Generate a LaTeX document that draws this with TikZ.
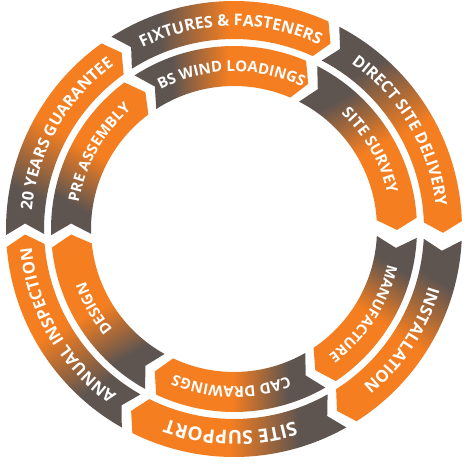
\documentclass[tikz,border=0pt]{standalone}
\usepackage{fontspec}
\setmainfont{Open Sans}
\definecolor{sgrey}{RGB}{95,85,80}
\definecolor{sorange}{RGB}{244,126,32}
\pgfdeclarehorizontalshading{segshade}{100bp}{color(0bp)=(sgrey); color(36bp)=(sgrey); color(52bp)=(sorange); color(100bp)=(sorange)}
% #1 tail gap angle, #2 head gap angle, #3 tail gap width, #4 head gap width,
% #5 inner radius, #6 outer radius
\newcommand\ringseg[6]{%
 \pgfmathsetmacro\sgS{#1-#2}%
 \pgfmathsetmacro\sgRot{(#1+#2)/2-90}%
 \pgfmathsetmacro\sgRm{(#5+#6)/2}%
 \pgfmathsetmacro\sgA{90+\sgS/2}%
 \pgfmathsetmacro\sgB{90-\sgS/2}%
 \pgfmathsetmacro\sgWt{#3/2/\sgRm*57.2958}%
 \pgfmathsetmacro\sgWh{#4/2/\sgRm*57.2958}%
 \pgfmathsetmacro\sgD{11/\sgRm*57.2958}%
 \pgfmathsetmacro\sgTc{\sgA-\sgWt+\sgD}%
 \pgfmathsetmacro\sgTn{\sgA-\sgWt}%
 \pgfmathsetmacro\sgHc{\sgB+\sgWh+\sgD}%
 \pgfmathsetmacro\sgHt{\sgB+\sgWh}%
 \begin{scope}[transform canvas={shift={(234pt,237pt)},rotate=\sgRot}]
  \path[shading=segshade] (\sgTc:#6) arc[start angle=\sgTc, end angle=\sgHc, radius=#6]
    -- (\sgHt:\sgRm) -- (\sgHc:#5) arc[start angle=\sgHc, end angle=\sgTc, radius=#5]
    -- (\sgTn:\sgRm) -- cycle;
 \end{scope}}
% one character of a curved label: #1 angle, #2 radius, #3 size, #4 char
\newcommand\arcchar[4]{\node[anchor=base, inner sep=0pt, text=white,
  font=\fontsize{#3}{#3}\selectfont\bfseries, rotate=#1-90] at (#1:#2) {#4};}
\ExplSyntaxOn
\fp_new:N \l__arc_ang_fp
\fp_new:N \l__arc_w_fp
\fp_new:N \l__arc_c_fp
\box_new:N \l__arc_box
\tl_new:N \g__arc_nodes_tl
\cs_new_protected:Npn \arc_font:n #1 { \fontsize{#1}{#1}\selectfont\bfseries }
% #1 baseline radius, #2 centre angle, #3 font size, #4 text (clockwise)
% measured outside the picture; the characters are stored and drawn by \arcnodes
\NewDocumentCommand \arctext { m m m m }
 {
  \hbox_set:Nn \l__arc_box { \arc_font:n {#3} \str_map_inline:nn {#4} { \hbox:n {##1} } }
  \fp_set:Nn \l__arc_ang_fp { #2 + \dim_to_fp:n { \box_wd:N \l__arc_box } / 2 / (#1) * 57.29578 }
  \str_map_inline:nn {#4}
   {
    \hbox_set:Nn \l__arc_box { \arc_font:n {#3} ##1 }
    \fp_set:Nn \l__arc_w_fp { \dim_to_fp:n { \box_wd:N \l__arc_box } / (#1) * 57.29578 }
    \fp_set:Nn \l__arc_c_fp { \l__arc_ang_fp - \l__arc_w_fp / 2 }
    \str_if_eq:nnF {##1} {~}
     {
      \tl_gput_right:Nx \g__arc_nodes_tl
       { \exp_not:N \arcchar { \fp_eval:n { round(\l__arc_c_fp, 4) } } {#1} {#3} { \exp_not:n {##1} } }
     }
    \fp_sub:Nn \l__arc_ang_fp { \l__arc_w_fp }
   }
 }
\NewDocumentCommand \arcnodes { } { \tl_use:N \g__arc_nodes_tl }
\ExplSyntaxOff
\begin{document}
% outer labels
\arctext{203}{150.5}{16}{20 YEARS GUARANTEE}%
\arctext{203}{91}{16}{FIXTURES & FASTENERS}%
\arctext{203}{30.5}{16}{DIRECT SITE DELIVERY}%
\arctext{203}{-33.5}{16.5}{INSTALLATION}%
\arctext{202}{-91}{19}{SITE SUPPORT}%
\arctext{203}{210}{16.5}{ANNUAL INSPECTION}%
% inner labels
\arctext{157.5}{150.5}{15}{PRE ASSEMBLY}%
\arctext{157.5}{91}{15}{BS WIND LOADINGS}%
\arctext{157.5}{30}{15.5}{SITE SURVEY}%
\arctext{157.5}{-33}{14.5}{MANUFACTURE}%
\arctext{157.5}{-91}{15}{CAD DRAWINGS}%
\arctext{157.5}{209.5}{15}{DESIGN}%
\begin{tikzpicture}[x=1pt,y=1pt]
\fill[white] (0,0) rectangle (470,466);
\useasboundingbox (0,0) rectangle (470,466);
% outer ring
\ringseg{180}{121}{11}{11}{190}{228}
\ringseg{121}{61}{11}{11}{190}{228}
\ringseg{61}{-3.5}{11}{18}{190}{228}
\ringseg{-3.5}{-62}{18}{11}{190}{228}
\ringseg{-62}{-121}{11}{11}{190}{228}
\ringseg{239}{180}{11}{11}{190}{228}
% inner ring
\ringseg{180}{121}{11}{11}{143}{183}
\ringseg{121}{61}{11}{11}{143}{183}
\ringseg{61}{-3.5}{11}{18}{143}{183}
\ringseg{-3.5}{-62}{18}{11}{143}{183}
\ringseg{-62}{-121}{11}{11}{143}{183}
\ringseg{239}{180}{11}{11}{143}{183}
% labels
\begin{scope}[shift={(234,237)}]
\arcnodes
\end{scope}
\end{tikzpicture}
\end{document}
